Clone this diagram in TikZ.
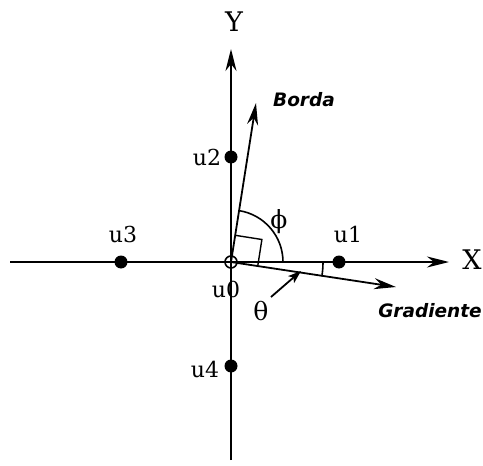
\documentclass[tikz,border=0pt]{standalone}
\usepackage{fontspec}
\setmainfont{DejaVu Serif}
\newfontfamily\lblfont{DejaVu Sans}
\usetikzlibrary{arrows.meta}
\begin{document}
\begin{tikzpicture}[x=1pt,y=-1pt,line width=1.8pt,
  bigarrow/.style={-{Stealth[length=22pt,width=11pt,inset=7pt]}},
  smallarrow/.style={-{Stealth[length=13pt,width=9pt,inset=3pt]}},
  dot/.style={circle,fill=black,inner sep=0pt,minimum size=13pt},
  ocirc/.style={circle,draw=black,line width=1.6pt,inner sep=0pt,minimum size=12pt},
  ulabel/.style={font=\fontsize{22}{24}\selectfont,inner sep=0pt},
  axlabel/.style={font=\fontsize{27}{29}\selectfont,inner sep=0pt},
  greek/.style={font=\fontsize{25}{27}\selectfont,inner sep=0pt},
  vlabel/.style={font=\lblfont\bfseries\itshape\fontsize{18.5}{20}\selectfont,inner sep=0pt}]
\useasboundingbox (0,0) rectangle (483,466);
% coordinates
\coordinate (O) at (231,262);
\coordinate (xl) at (10,262);
\coordinate (xr) at (449,262);
\coordinate (yb) at (231,460);
\coordinate (yt) at (231,49);
\coordinate (bt) at (256,103);
\coordinate (gt) at (396,287);
% axes
\draw[bigarrow] (xl) -- (xr);
\draw[bigarrow] (yb) -- (yt);
\node[axlabel] (X) at (472,260) {X};
\node[axlabel] (Y) at (234,22) {Y};
% vectors
\draw[bigarrow] (O) -- (bt);
\draw[bigarrow] (O) -- (gt);
\node[vlabel] (borda) at (304,100) {Borda};
\node[vlabel] (grad) at (430,311) {Gradiente};
% right angle mark
\coordinate (ra) at (235.2,235.3);
\coordinate (rb) at (257.7,266.2);
\coordinate (rc) at (261.9,239.5);
\draw[line width=1.4pt] (ra) -- (rc) -- (rb);
% phi arc
\coordinate (pa) at (283,262);
\draw[line width=1.6pt] (pa) arc[start angle=0,end angle=-81,radius=52];
\node[greek] (phi) at (279,222) {ϕ};
% theta arc
\coordinate (ta) at (323,262);
\draw[line width=1.6pt] (ta) arc[start angle=0,end angle=9,radius=92];
\node[greek] (theta) at (261,311) {θ};
\coordinate (ths) at (271,297);
\coordinate (the) at (301,271);
\draw[smallarrow] (ths) -- (the);
% points
\node[ocirc] (u0) at (O) {};
\node[dot] (u1) at (339,262) {};
\node[dot] (u2) at (231,157) {};
\node[dot] (u3) at (121,262) {};
\node[dot] (u4) at (231,366) {};
\node[ulabel] (lu0) at (226,289) {u0};
\node[ulabel] (lu1) at (348,234) {u1};
\node[ulabel] (lu2) at (207,157) {u2};
\node[ulabel] (lu3) at (123,234) {u3};
\node[ulabel] (lu4) at (205,369) {u4};
\end{tikzpicture}
\end{document}
